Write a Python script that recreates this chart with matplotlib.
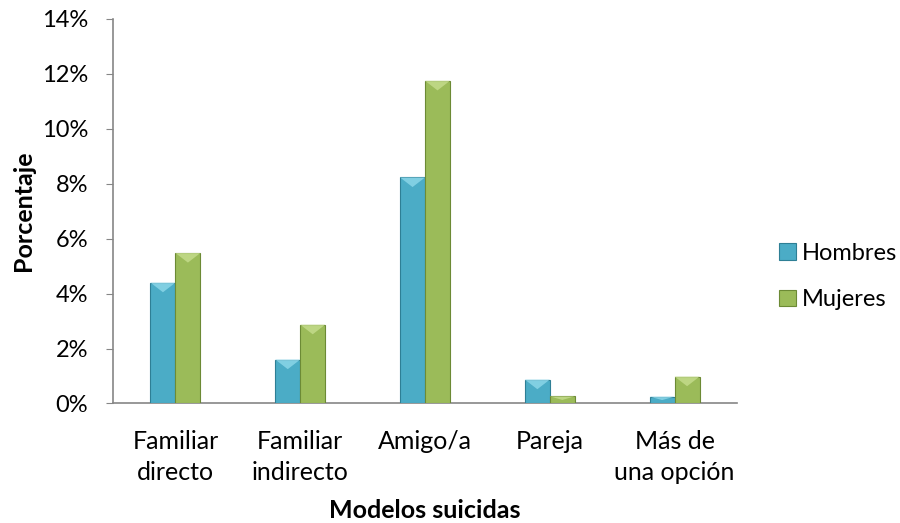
import matplotlib.pyplot as plt
import numpy as np
from matplotlib.patches import Polygon

plt.rcParams['font.family'] = ['Lato', 'DejaVu Sans']

categorias = ['Familiar\ndirecto', 'Familiar\nindirecto', 'Amigo/a', 'Pareja', 'Más de\nuna opción']
hombres = [4.4, 1.6, 8.23, 0.87, 0.25]
mujeres = [5.48, 2.87, 11.75, 0.26, 0.98]

c_h, c_h_edge, c_h_top = '#4BACC6', '#2E7F95', '#8ED8EA'
c_m, c_m_edge, c_m_top = '#9BBB59', '#6C8A35', '#C6DD8E'

fig = plt.figure(figsize=(9, 5.23), dpi=100)
ax = fig.add_axes([0.1256, 0.2285, 0.6933, 0.7352])

x = np.arange(len(categorias))
w = 0.2
ax.bar(x - w / 2, hombres, w, color=c_h, edgecolor=c_h_edge, linewidth=0.8, label='Hombres', zorder=3)
ax.bar(x + w / 2, mujeres, w, color=c_m, edgecolor=c_m_edge, linewidth=0.8, label='Mujeres', zorder=3)

# bevel highlight on top of each bar
for xs, vals, top in [(x - w / 2, hombres, c_h_top), (x + w / 2, mujeres, c_m_top)]:
    for xi, v in zip(xs, vals):
        d = min(0.35, v / 2)
        tri = Polygon([(xi - w / 2, v), (xi + w / 2, v), (xi, v - d)], closed=True,
                      facecolor=top, edgecolor='none', alpha=0.8, zorder=4)
        ax.add_patch(tri)

fs = 17
ax.set_xlim(-0.5, len(categorias) - 0.5)
ax.set_ylim(0, 14)
ax.set_yticks(np.arange(0, 15, 2))
ax.set_yticklabels([f'{v}%' for v in range(0, 15, 2)], fontsize=fs)
ax.set_xticks(x)
ax.set_xticklabels(categorias, fontsize=18, linespacing=1.45)
ax.tick_params(axis='x', length=0, pad=19)
ax.tick_params(axis='y', length=5, color='#868686', pad=13)

for s in ['top', 'right']:
    ax.spines[s].set_visible(False)
for s in ['left', 'bottom']:
    ax.spines[s].set_color('#868686')
    ax.spines[s].set_linewidth(1.2)

ax.set_ylabel('Porcentaje', fontsize=18, fontweight='bold', labelpad=5)
ax.set_xlabel('Modelos suicidas', fontsize=18, fontweight='bold')
ax.xaxis.set_label_coords(0.5, -0.248)

ax.legend(loc='center left', bbox_to_anchor=(0.866, 0.4713), bbox_transform=fig.transFigure,
          frameon=False, fontsize=fs, borderpad=0, borderaxespad=0,
          handlelength=0.7, handleheight=0.7, handletextpad=0.25, labelspacing=1.1)

fig.savefig('out.png', dpi=100)
